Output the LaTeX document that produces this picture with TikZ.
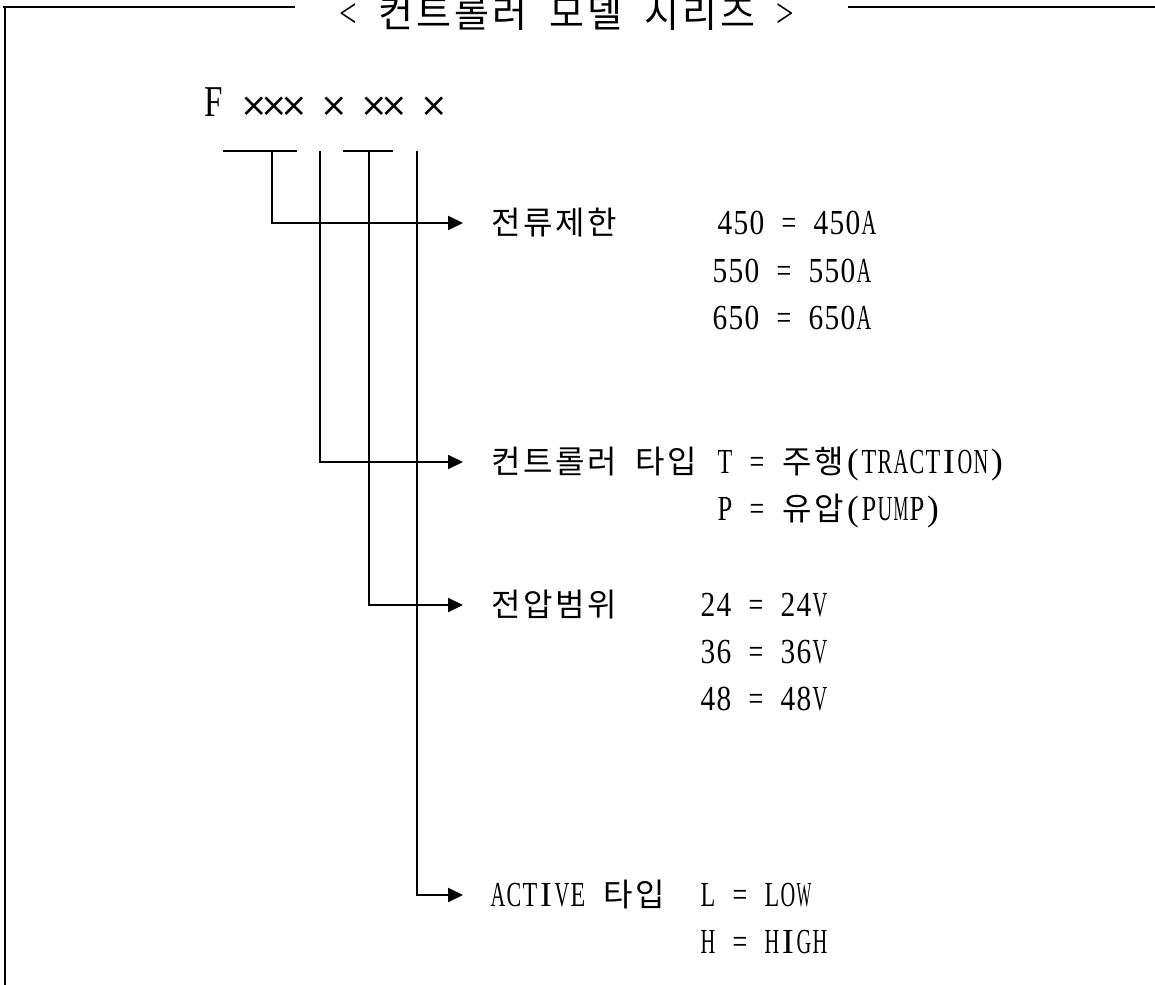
\documentclass[tikz,border=0pt]{standalone}
\usepackage{fontspec}
\usetikzlibrary{arrows.meta}
\newfontfamily\krfont{Noto Sans CJK KR}
\newfontfamily\latinfont[Scale=1.1]{Liberation Serif}
\newfontfamily\symfont[Scale=0.82]{DejaVu Sans}
\ExplSyntaxOn
\dim_new:N \l__mono_cell_dim
\box_new:N \l__mono_box
\cs_new_protected:Npn \__mono_char:n #1
  {
    \str_if_eq:nnTF {#1} {~}
      { \hbox_to_wd:nn { \l__mono_cell_dim } { } }
      {
        \int_compare:nNnTF { `#1 } > { "2000 }
          { \hbox_to_wd:nn { 2\l__mono_cell_dim } { \hfil \krfont #1 \hfil } }
          {
            \int_compare:nNnTF { `#1 } = { "D7 }
              { \hbox_to_wd:nn { \l__mono_cell_dim } { \hss \symfont #1 \hss } }
              {
                \hbox_set:Nn \l__mono_box { \latinfont #1 }
                \dim_compare:nNnT { \box_wd:N \l__mono_box } > { 0.92\l__mono_cell_dim }
                  {
                    \box_scale:Nnn \l__mono_box
                      { \fp_eval:n { 0.92 * \dim_to_fp:n { \l__mono_cell_dim } / \dim_to_fp:n { \box_wd:N \l__mono_box } } }
                      { 1 }
                  }
                \hbox_to_wd:nn { \l__mono_cell_dim } { \hfil \box_use:N \l__mono_box \hfil }
              }
          }
      }
  }
\NewDocumentCommand \mono { O{16pt} m }
  {
    \group_begin:
    \dim_set:Nn \l__mono_cell_dim {#1}
    \fontsize { \dim_eval:n { 2\l__mono_cell_dim } } { \dim_eval:n { 2.4\l__mono_cell_dim } } \selectfont
    \str_map_inline:nn {#2} { \__mono_char:n {##1} }
    \group_end:
  }
\ExplSyntaxOff
\tikzset{
  txt/.style={anchor=west, inner sep=0pt, outer sep=0pt, text height=26pt, text depth=4pt},
  heading/.style={anchor=base west, inner sep=0pt, outer sep=0pt},
  bar/.style={draw, line width=2pt},
  conn/.style={draw, line width=2pt, -{Triangle[length=15pt,width=14pt]}, shorten >=27pt},
  frame/.style={draw, line width=2pt}
}
\begin{document}
\begin{tikzpicture}[x=1pt, y=-1pt]
\fill[white] (0,0) rectangle (1155,984);
\useasboundingbox (0,0) rectangle (1155,984);
\clip (0,0) rectangle (1155,984);
% frame
\coordinate (f1) at (295,7);
\coordinate (f0) at (5,7);
\coordinate (f2) at (5,990);
\coordinate (f3) at (848,7);
\coordinate (f4) at (1160,7);
\draw[frame] (f1) -- (3,7);
\draw[frame] (f0) -- (f2);
\draw[frame] (f3) -- (f4);
\node[heading] (title) at (339,28) {\mono[19pt]{< 컨트롤러 모델 시리즈 >}};
% model code
\node[heading] (code) at (204,117) {\mono[20pt]{F ××× × ×× ×}};
% labels
\node[txt] (lab1) at (490,223) {\mono{전류제한}};
\node[txt] (v1a) at (717,223) {\mono{450 = 450A}};
\node[txt] (v1b) at (712,271) {\mono{550 = 550A}};
\node[txt] (v1c) at (712,318) {\mono{650 = 650A}};
\node[txt] (lab2) at (490,462) {\mono{컨트롤러 타입}};
\node[txt] (v2a) at (717,462) {\mono{T = 주행(TRACTION)}};
\node[txt] (v2b) at (717,509) {\mono{P = 유압(PUMP)}};
\node[txt] (lab3) at (490,605) {\mono{전압범위}};
\node[txt] (v3a) at (700,605) {\mono{24 = 24V}};
\node[txt] (v3b) at (700,652) {\mono{36 = 36V}};
\node[txt] (v3c) at (700,699) {\mono{48 = 48V}};
\node[txt] (lab4) at (490,895) {\mono{ACTIVE 타입}};
\node[txt] (v4a) at (700,895) {\mono{L = LOW}};
\node[txt] (v4b) at (700,942) {\mono{H = HIGH}};
% bars and connectors
\coordinate (b1l) at (223,151);
\coordinate (b1r) at (297,151);
\coordinate (b2l) at (343,151);
\coordinate (b2r) at (393,151);
\coordinate (t1) at (272,151);
\coordinate (t2) at (320,151);
\coordinate (t3) at (369,151);
\coordinate (t4) at (417,151);
\draw[bar] (b1l) -- (b1r);
\draw[bar] (b2l) -- (b2r);
\draw[conn] (t1) |- (lab1);
\draw[conn] (t2) |- (lab2);
\draw[conn] (t3) |- (lab3);
\draw[conn] (t4) |- (lab4);
\end{tikzpicture}
\end{document}
